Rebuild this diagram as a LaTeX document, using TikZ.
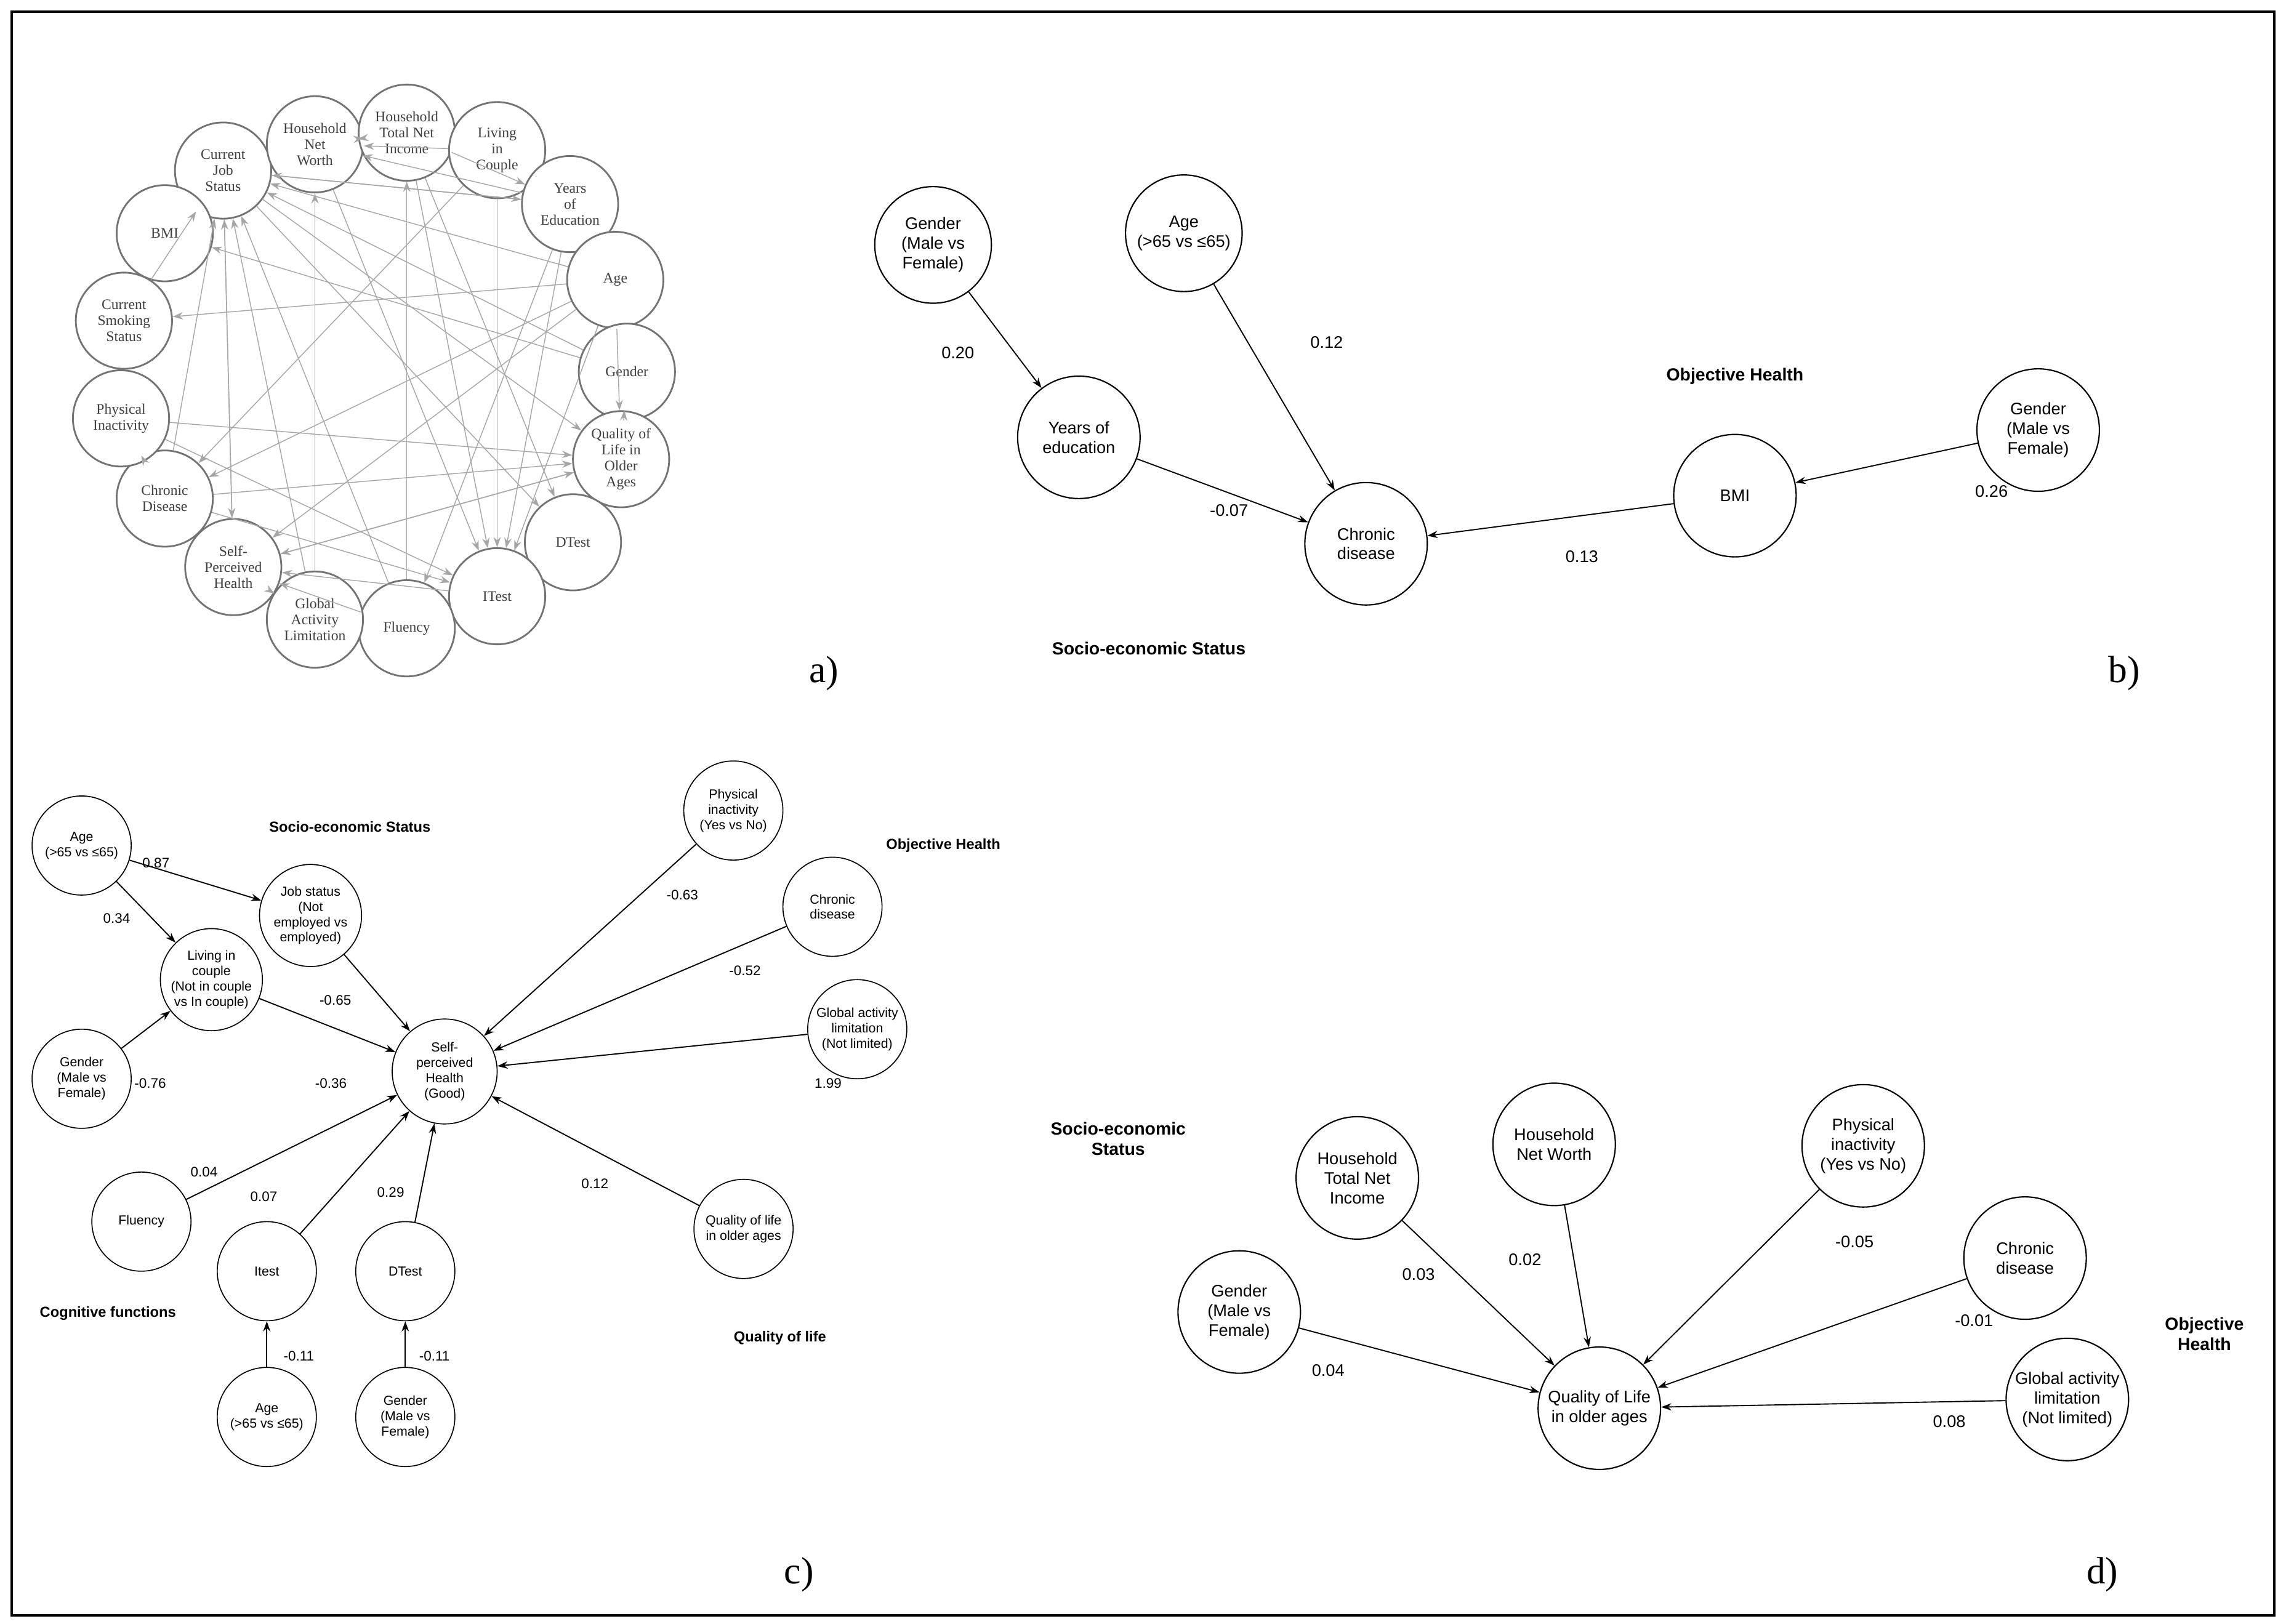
\documentclass[tikz,border=0pt]{standalone}
\usepackage{fontspec}
\setmainfont{Liberation Sans}
\newfontfamily\serifa{Liberation Serif}
\usetikzlibrary{arrows.meta}
\begin{document}
\begin{tikzpicture}[x=1pt,y=-1pt,
 an/.style={circle,draw=black!55,line width=1.2pt,fill=white,minimum size=66pt,inner sep=0pt,align=center,font=\serifa\fontsize{10}{11}\selectfont,text=black!75},
 ae/.style={draw=black!35,line width=0.6pt,-{Stealth[length=7pt,width=5pt]}},
 bn/.style={circle,draw=black,line width=0.9pt,minimum size=84pt,inner sep=0pt,align=center,font=\fontsize{11.5}{13.5}\selectfont},
 cn/.style={circle,draw=black,line width=0.7pt,minimum size=68pt,inner sep=0pt,align=center,font=\fontsize{9}{10.5}\selectfont},
 e/.style={draw=black,line width=0.8pt,-{Stealth[length=7pt,width=5pt]}},
 lb/.style={font=\fontsize{11.5}{13}\selectfont},
 lc/.style={font=\fontsize{9.5}{11}\selectfont},
 gb/.style={font=\bfseries\fontsize{12}{14}\selectfont,align=center},
 gc/.style={font=\bfseries\fontsize{10}{12}\selectfont,align=center},
 pl/.style={font=\serifa\fontsize{26}{28}\selectfont}]
\useasboundingbox (0,0) rectangle (1568,1114);
\fill[white] (0,0) rectangle (1568,1114);
\draw[line width=1.5pt] (8,8) rectangle (1560,1108);
% ---------- panel a
\node[an] (job) at (153,117) {Current\\Job\\Status};
\node[an] (hnw) at (216,99) {Household\\Net\\Worth};
\node[an] (htni) at (279,91) {Household\\Total Net\\Income};
\node[an] (lic) at (341,103) {Living\\in\\Couple};
\node[an] (yoe) at (391,140) {Years\\of\\Education};
\node[an] (age) at (422,192) {Age};
\node[an] (gen) at (430,255) {Gender};
\node[an] (qol) at (426,315) {Quality of\\Life in\\Older\\Ages};
\node[an] (dt) at (393,372) {DTest};
\node[an] (it) at (341,409) {ITest};
\node[an] (flu) at (279,431) {Fluency};
\node[an] (gal) at (216,425) {Global\\Activity\\Limitation};
\node[an] (sph) at (160,389) {Self-\\Perceived\\Health};
\node[an] (chr) at (113,342) {Chronic\\Disease};
\node[an] (phy) at (83,287) {Physical\\Inactivity};
\node[an] (smk) at (85,220) {Current\\Smoking\\Status};
\node[an] (bmi) at (113,160) {BMI};
\foreach \a/\b in {job/sph,flu/htni,age/smk,gen/bmi,age/job,gen/job,yoe/job,yoe/hnw,lic/hnw,htni/hnw,hnw/htni,htni/yoe,job/yoe,lic/chr,age/chr,age/sph,qol/sph,phy/qol,chr/qol,sph/qol,chr/it,phy/it,htni/it,hnw/it,job/dt,job/qol,yoe/it,age/it,yoe/flu,gal/job,sph/job,chr/job,flu/job,gal/hnw,smk/job,phy/chr,gal/sph,it/sph,flu/sph,lic/it,htni/dt,gen/qol,age/qol}
  \draw[ae] (\a) -- (\b);
\node[pl] at (565,462) {a)};
% ---------- panel b
\node[bn,minimum size=80pt] (bg1) at (640,168) {Gender\\(Male vs\\Female)};
\node[bn,minimum size=80pt] (bage) at (812,160) {Age\\(>65 vs ≤65)};
\node[bn] (byoe) at (740,300) {Years of\\education};
\node[bn] (bchr) at (937,373) {Chronic\\disease};
\node[bn] (bbmi) at (1190,340) {BMI};
\node[bn] (bg2) at (1398,295) {Gender\\(Male vs\\Female)};
\draw[e] (bg1) -- (byoe); \node[lb] at (657,242) {0.20};
\draw[e] (bage) -- (bchr); \node[lb] at (910,235) {0.12};
\draw[e] (byoe) -- (bchr); \node[lb] at (843,350) {-0.07};
\draw[e] (bbmi) -- (bchr); \node[lb] at (1085,382) {0.13};
\draw[e] (bg2) -- (bbmi); \node[lb] at (1366,337) {0.26};
\node[gb] at (1190,258) {Objective Health};
\node[gb] at (788,445) {Socio-economic Status};
\node[pl] at (1457,462) {b)};
% ---------- panel c
\node[cn] (cage) at (56,580) {Age\\(>65 vs ≤65)};
\node[cn,minimum size=70pt] (cjob) at (213,628) {Job status\\(Not\\employed vs\\employed)};
\node[cn,minimum size=70pt] (cliv) at (145,672) {Living in\\couple\\(Not in couple\\vs In couple)};
\node[cn] (cgen) at (56,740) {Gender\\(Male vs\\Female)};
\node[cn,minimum size=72pt] (csph) at (305,735) {Self-\\perceived\\Health\\(Good)};
\node[cn] (cphy) at (503,556) {Physical\\inactivity\\(Yes vs No)};
\node[cn] (cchr) at (571,622) {Chronic\\disease};
\node[cn] (cgal) at (588,706) {Global activity\\limitation\\(Not limited)};
\node[cn] (cqol) at (510,843) {Quality of life\\in older ages};
\node[cn] (cflu) at (97,838) {Fluency};
\node[cn] (cit) at (183,872) {Itest};
\node[cn] (cdt) at (278,872) {DTest};
\node[cn] (cage2) at (183,972) {Age\\(>65 vs ≤65)};
\node[cn] (cgen2) at (278,972) {Gender\\(Male vs\\Female)};
\draw[e] (cage) -- (cjob); \node[lc] at (107,592) {0.87};
\draw[e] (cage) -- (cliv); \node[lc] at (80,630) {0.34};
\draw[e] (cgen) -- (cliv); \node[lc] at (103,743) {-0.76};
\draw[e] (cjob) -- (csph); \node[lc] at (230,686) {-0.65};
\draw[e] (cliv) -- (csph); \node[lc] at (227,743) {-0.36};
\draw[e] (cflu) -- (csph); \node[lc] at (140,804) {0.04};
\draw[e] (cit) -- (csph); \node[lc] at (181,821) {0.07};
\draw[e] (cdt) -- (csph); \node[lc] at (268,818) {0.29};
\draw[e] (cqol) -- (csph); \node[lc] at (408,812) {0.12};
\draw[e] (cgal) -- (csph); \node[lc] at (568,743) {1.99};
\draw[e] (cchr) -- (csph); \node[lc] at (511,666) {-0.52};
\draw[e] (cphy) -- (csph); \node[lc] at (468,614) {-0.63};
\draw[e] (cage2) -- (cit); \node[lc] at (205,930) {-0.11};
\draw[e] (cgen2) -- (cdt); \node[lc] at (298,930) {-0.11};
\node[gc] at (240,567) {Socio-economic Status};
\node[gc] at (647,580) {Objective Health};
\node[gc] at (74,901) {Cognitive functions};
\node[gc] at (535,918) {Quality of life};
\node[pl] at (548,1080) {c)};
% ---------- panel d
\node[bn] (dgen) at (850,900) {Gender\\(Male vs\\Female)};
\node[bn] (dhti) at (931,808) {Household\\Total Net\\Income};
\node[bn] (dhnw) at (1066,785) {Household\\Net Worth};
\node[bn] (dphy) at (1278,786) {Physical\\inactivity\\(Yes vs No)};
\node[bn] (dchr) at (1389,863) {Chronic\\disease};
\node[bn] (dgal) at (1418,960) {Global activity\\limitation\\(Not limited)};
\node[bn] (dqol) at (1097,966) {Quality of Life\\in older ages};
\draw[e] (dgen) -- (dqol); \node[lb] at (911,940) {0.04};
\draw[e] (dhti) -- (dqol); \node[lb] at (973,874) {0.03};
\draw[e] (dhnw) -- (dqol); \node[lb] at (1046,864) {0.02};
\draw[e] (dphy) -- (dqol); \node[lb] at (1272,852) {-0.05};
\draw[e] (dchr) -- (dqol); \node[lb] at (1354,906) {-0.01};
\draw[e] (dgal) -- (dqol); \node[lb] at (1337,975) {0.08};
\node[gb] at (767,781) {Socio-economic\\Status};
\node[gb] at (1512,915) {Objective\\Health};
\node[pl] at (1442,1080) {d)};
\end{tikzpicture}
\end{document}
